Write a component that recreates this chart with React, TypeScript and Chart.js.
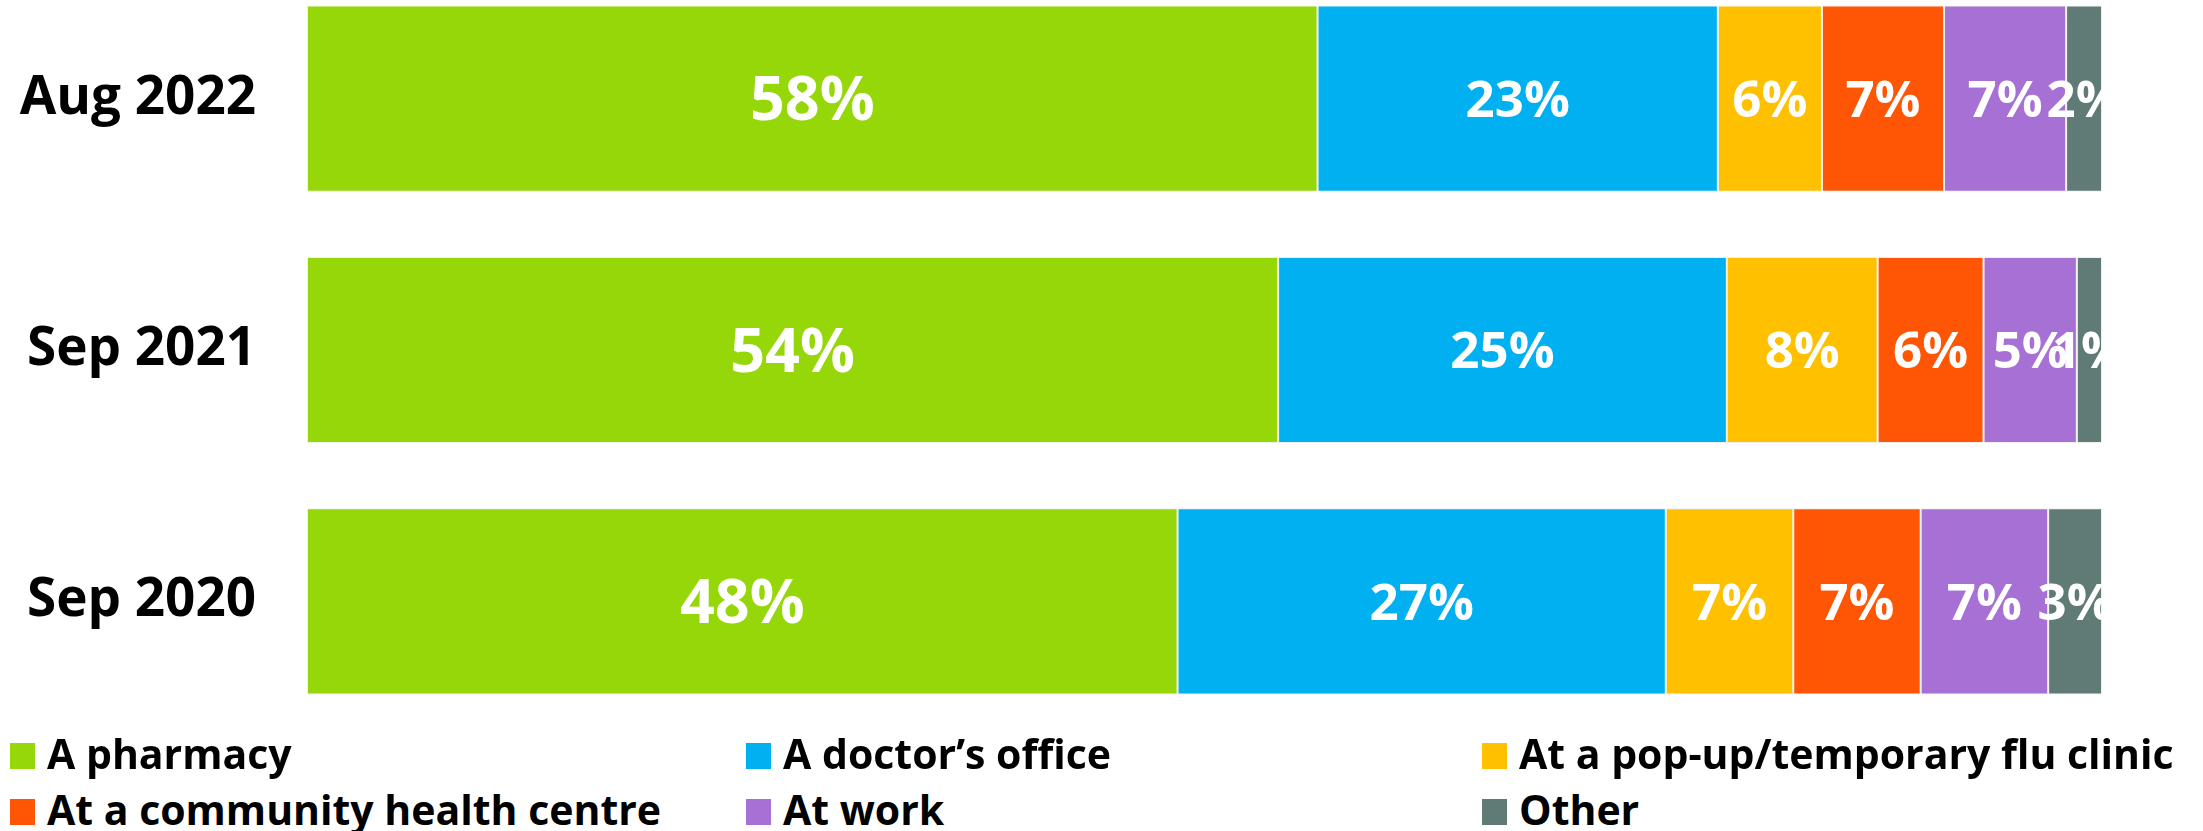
import React, { useEffect, useRef } from 'react';
import { Chart, registerables } from 'chart.js';

Chart.register(...registerables);

// Categories (top to bottom)
const categories = ['Aug 2022', 'Sep 2021', 'Sep 2020'];

// Series names and colours
const seriesNames = [
  'A pharmacy',
  'A doctor\u2019s office',
  'At a pop-up/temporary flu clinic',
  'At a community health centre',
  'At work',
  'Other',
];
const seriesColors = ['#96D70A', '#00B0F0', '#FFC000', '#FF5606', '#A770D4', '#607A75'];

// Segment shares of each bar (percent of bar length)
const pharmacy = [56.3, 54.1, 48.5];
const doctorsOffice = [22.3, 25.0, 27.2];
const popUpClinic = [5.8, 8.4, 7.1];
const communityCentre = [6.8, 5.9, 7.1];
const atWork = [6.8, 5.2, 7.1];
const other = [2.0, 1.4, 3.0];

// Printed data labels
const pharmacyLabels = ['58%', '54%', '48%'];
const doctorsOfficeLabels = ['23%', '25%', '27%'];
const popUpClinicLabels = ['6%', '8%', '7%'];
const communityCentreLabels = ['7%', '6%', '7%'];
const atWorkLabels = ['7%', '5%', '7%'];
const otherLabels = ['2%', '1%', '3%'];

const seriesValues = [pharmacy, doctorsOffice, popUpClinic, communityCentre, atWork, other];
const seriesLabels = [
  pharmacyLabels,
  doctorsOfficeLabels,
  popUpClinicLabels,
  communityCentreLabels,
  atWorkLabels,
  otherLabels,
];

const FONT = '"Open Sans", "DejaVu Sans", sans-serif';
const CANVAS_W = 2203;
const CANVAS_H = 754;
const CANVAS_TOP = -27;

const segmentLabelPlugin = {
  id: 'segmentLabels',
  afterDatasetsDraw(chart: any) {
    const { ctx, chartArea } = chart;
    ctx.save();
    ctx.beginPath();
    ctx.rect(
      chartArea.left,
      chartArea.top,
      chartArea.right - chartArea.left,
      chartArea.bottom - chartArea.top
    );
    ctx.clip();
    ctx.fillStyle = '#ffffff';
    ctx.textAlign = 'center';
    ctx.textBaseline = 'alphabetic';
    chart.data.datasets.forEach((ds: any, di: number) => {
      const meta = chart.getDatasetMeta(di);
      const size = di === 0 ? 61 : 51;
      ctx.font = `700 ${size}px ${FONT}`;
      meta.data.forEach((bar: any, i: number) => {
        const p = bar.getProps(['x', 'y', 'base'], true);
        const cx = (p.x + p.base) / 2;
        const cy = p.y + (size * 0.714) / 2;
        ctx.fillText(seriesLabels[di][i], cx, cy);
      });
    });
    ctx.restore();
  },
};

const legendCols = [10, 746, 1482];
const legendRows = [743, 799];

export default function App() {
  const canvasRef = useRef<HTMLCanvasElement | null>(null);

  useEffect(() => {
    const canvas = canvasRef.current;
    if (!canvas) return;
    const chart = new Chart(canvas, {
      type: 'bar',
      data: {
        labels: categories,
        datasets: seriesNames.map((name, i) => ({
          label: name,
          data: seriesValues[i],
          backgroundColor: seriesColors[i],
          borderColor: 'rgba(225,225,225,0.55)',
          borderWidth: 1,
          borderSkipped: false,
          categoryPercentage: 0.741,
          barPercentage: 1,
        })),
      },
      options: {
        indexAxis: 'y',
        animation: false,
        responsive: false,
        devicePixelRatio: 1,
        layout: { padding: { left: 0, right: 101, top: 0, bottom: 0 } },
        plugins: {
          legend: { display: false },
          tooltip: { enabled: false },
          title: { display: false },
        },
        scales: {
          x: {
            stacked: true,
            min: 0,
            max: 100,
            display: false,
          },
          y: {
            stacked: true,
            grid: { display: false, drawTicks: false },
            border: { display: false },
            ticks: {
              color: '#000000',
              font: { family: FONT, size: 53, weight: 'bold' },
              padding: 51,
            },
            afterFit(scale: any) {
              scale.width = 307;
              scale.paddingTop = 0;
              scale.paddingBottom = 0;
            },
          },
        },
      },
      plugins: [segmentLabelPlugin],
    });
    return () => {
      chart.destroy();
    };
  }, []);

  return (
    <div
      style={{
        position: 'absolute',
        left: 0,
        top: 0,
        width: CANVAS_W,
        height: 831,
        overflow: 'hidden',
        background: '#ffffff',
      }}
    >
      <canvas
        ref={canvasRef}
        width={CANVAS_W}
        height={CANVAS_H}
        style={{ position: 'absolute', left: 0, top: CANVAS_TOP, width: CANVAS_W, height: CANVAS_H }}
      />
      {seriesNames.map((name, i) => {
        const col = i % 3;
        const row = Math.floor(i / 3);
        const left = legendCols[col];
        const top = legendRows[row];
        return (
          <div key={name}>
            <div
              style={{
                position: 'absolute',
                left,
                top,
                width: 25,
                height: 26,
                background: seriesColors[i],
              }}
            />
            <div
              style={{
                position: 'absolute',
                left: left + 37,
                top: top + 26 - 36.4,
                fontFamily: FONT,
                fontWeight: 700,
                fontSize: 41,
                lineHeight: '41px',
                color: '#000000',
                whiteSpace: 'nowrap',
              }}
            >
              {name}
            </div>
          </div>
        );
      })}
    </div>
  );
}
